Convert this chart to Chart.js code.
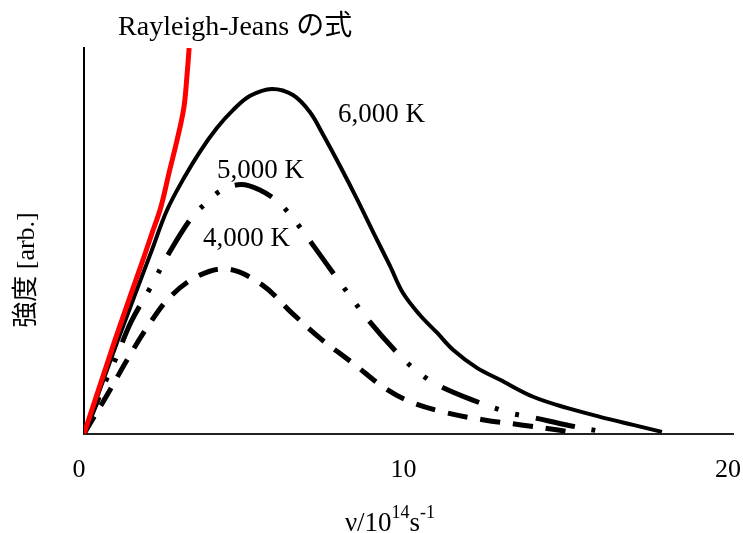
<!DOCTYPE html>
<html>
<head>
<meta charset="utf-8">
<script src="https://cdn.jsdelivr.net/npm/chart.js@4/dist/chart.umd.min.js"></script>
<style>
body{margin:0;background:#fff;}
</style>
</head>
<body>
<canvas id="c" width="743" height="533"></canvas>
<script>
// values: frequency in 10^14 s^-1, intensity in arbitrary units (0-100)
const rjNu=[0,0.96,1.85,2.10,2.37,2.62,2.87,3.08,3.18,3.24];
const rjI=[0,24.4,45.9,52.1,58.8,67.6,76.2,84.7,93.5,100];

const nu6000=[0,1.05,2.06,2.56,3.08,3.57,4.10,4.59,5.12,5.79,6.44,6.96,7.37,7.89,8.41,8.91,9.43,9.83,10.35,10.88,11.37,12.11,12.82,13.84,14.88,15.90,16.92,17.81];
const i6000=[0,24.4,46.9,58.0,66.3,73.1,79.3,83.9,87.6,89.4,87.8,83.4,77.5,69.4,60.9,52.3,43.5,36.5,30.8,26.2,21.8,17.1,14.0,9.6,6.7,4.4,2.3,0.5];

const nu5000=[0,0.71,0.99,1.45,2.06,2.68,3.33,3.76,4.25,4.84,5.42,5.98,6.38,6.78,7.12,7.83,8.81,9.80,10.29,10.82,11.96,13.13,13.74,14.98,16.15];
const i5000=[0,14.5,19.7,29.0,38.1,47.7,56.2,59.8,63.2,64.6,63.2,60.1,56.5,52.1,48.2,39.9,29.0,19.7,16.1,13.0,8.8,5.4,4.4,2.1,0.3];

const nu4000=[0,0.77,1.33,1.94,2.62,3.51,4.44,5.49,6.41,7.30,8.35,9.21,10.05,11.19,12.33,13.47,14.61,14.98];
const i4000=[0,10.9,19.2,27.5,35.2,40.9,42.7,38.6,31.3,24.6,17.9,12.2,8.3,5.4,3.6,2.3,1.0,0.5];

const xTicks=[0,10,20];

const pts=(xs,ys)=>xs.map((v,i)=>({x:v,y:ys[i]}));
const serif='"Liberation Serif","Noto Sans CJK JP",serif';

// text drawn on the plot (anchor in data units)
const notes=[
 {text:'Rayleigh-Jeans の式',x:1.05,y:103.4,size:28},
 {text:'6,000 K',x:7.83,y:80.8,size:27},
 {text:'5,000 K',x:4.10,y:66.3,size:27},
 {text:'4,000 K',x:3.67,y:48.7,size:27}
];

const textPlugin={
 id:'texts',
 afterDraw(chart){
  const {ctx,scales:{x,y},chartArea}=chart;
  ctx.save();
  ctx.fillStyle='#000';
  ctx.textBaseline='alphabetic';
  ctx.textAlign='left';
  notes.forEach(n=>{
   ctx.font=n.size+'px '+serif;
   ctx.fillText(n.text,x.getPixelForValue(n.x),y.getPixelForValue(n.y));
  });
  // y title
  ctx.save();
  ctx.translate(chartArea.left-57,270);
  ctx.rotate(-Math.PI/2);
  ctx.textAlign='center';
  ctx.textBaseline='middle';
  ctx.font='26px '+serif;
  ctx.fillText('強度 [arb.]',0,0);
  ctx.restore();
  // x title with superscripts
  const parts=[['ν/10',27,0],['14',18,-13],['s',27,0],['-1',18,-13]];
  let w=0;
  parts.forEach(p=>{ctx.font=p[1]+'px '+serif;w+=ctx.measureText(p[0]).width;});
  let px=390-w/2;
  parts.forEach(p=>{
   ctx.font=p[1]+'px '+serif;
   ctx.fillText(p[0],px,531+p[2]);
   px+=ctx.measureText(p[0]).width;
  });
  ctx.restore();
 }
};

new Chart(document.getElementById('c'),{
 type:'scatter',
 data:{datasets:[
  {label:'Rayleigh-Jeans',data:pts(rjNu,rjI),borderColor:'#ff0000',borderWidth:5},
  {label:'6,000 K',data:pts(nu6000,i6000),borderColor:'#000',borderWidth:4},
  {label:'5,000 K',data:pts(nu5000,i5000),borderColor:'#000',borderWidth:5,borderDash:[40,17,4,17,4,17]},
  {label:'4,000 K',data:pts(nu4000,i4000),borderColor:'#000',borderWidth:5,borderDash:[20,13]}
 ].map(d=>Object.assign(d,{showLine:true,pointRadius:0,tension:0.35,borderCapStyle:'butt',borderJoinStyle:'round',fill:false}))},
 options:{
  responsive:false,
  animation:false,
  layout:{padding:{left:84,right:10,top:48,bottom:26}},
  plugins:{legend:{display:false},tooltip:{enabled:false}},
  scales:{
   x:{type:'linear',min:0,max:20,
      afterBuildTicks:s=>{s.ticks=xTicks.map(v=>({value:v}));},
      afterFit:s=>{s.paddingLeft=0;s.paddingRight=0;},
      grid:{display:false,drawTicks:false},
      border:{display:true,color:'#222',width:2},
      ticks:{padding:21,labelOffset:-5,color:'#000',font:{family:serif,size:26}}},
   y:{type:'linear',min:0,max:100,
      grid:{display:false,drawTicks:false},
      border:{display:true,color:'#000',width:2},
      ticks:{display:false}}
  }
 },
 plugins:[textPlugin]
});
</script>
</body>
</html>
